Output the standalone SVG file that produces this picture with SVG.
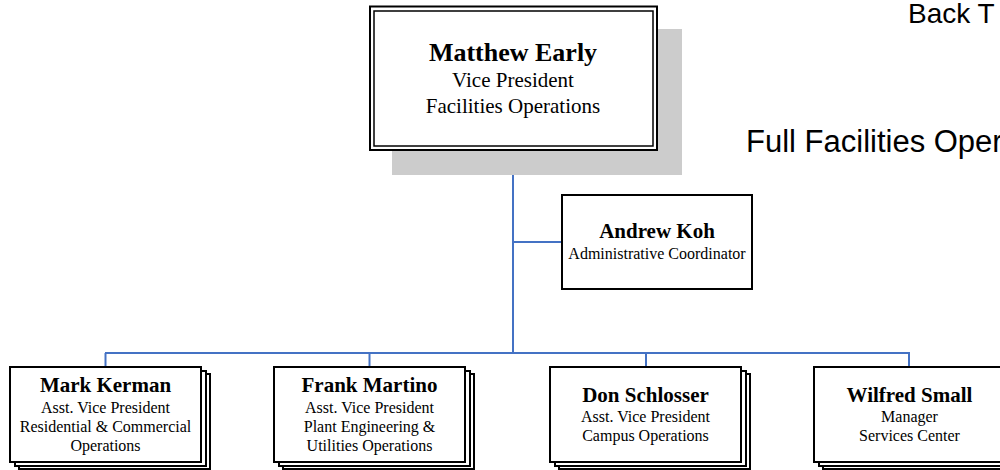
<svg xmlns="http://www.w3.org/2000/svg" width="1000" height="470" viewBox="0 0 1000 470">
<style>
  .nm { font-family: "Liberation Serif", "Times New Roman", serif; font-weight: bold; text-anchor: middle; fill: #000; }
  .tt { font-family: "Liberation Serif", "Times New Roman", serif; text-anchor: middle; fill: #000; }
  .box { fill: #fff; stroke: #000; stroke-width: 2; }
  .stack { fill: #fff; stroke: #000; stroke-width: 2; }
  .conn { fill: none; stroke: #4472C4; stroke-width: 2; }
  .link { font-family: "Liberation Sans", Arial, sans-serif; fill: #000; }
</style>
<rect width="1000" height="470" fill="#fff"/>

<text class="link" x="908" y="23" font-size="28">Back T</text>
<text class="link" x="746" y="152" font-size="31">Full Facilities Oper</text>

<g id="connectors">
  <line class="conn" x1="513" y1="151" x2="513" y2="353"/>
  <line class="conn" x1="513" y1="242" x2="562" y2="242"/>
  <line class="conn" x1="105" y1="353" x2="910" y2="353"/>
  <line class="conn" x1="105.5" y1="353" x2="105.5" y2="367"/>
  <line class="conn" x1="369.5" y1="353" x2="369.5" y2="367"/>
  <line class="conn" x1="646" y1="353" x2="646" y2="367"/>
  <line class="conn" x1="909" y1="353" x2="909" y2="367"/>
</g>

<g id="matthew-early">
  <rect x="392" y="29" width="290" height="146" fill="#cccccc"/>
  <rect x="370" y="6.5" width="287" height="143.5" fill="#fff" stroke="#000" stroke-width="2"/>
  <rect x="374" y="11" width="279" height="135" fill="none" stroke="#000" stroke-width="1.5"/>
  <text class="nm" x="513" y="61" font-size="26">Matthew Early</text>
  <text class="tt" x="513" y="87" font-size="21">Vice President</text>
  <text class="tt" x="513" y="113" font-size="21">Facilities Operations</text>
</g>

<g id="andrew-koh">
  <rect class="box" x="562" y="195" width="190" height="94"/>
  <text class="nm" x="657" y="238" font-size="21">Andrew Koh</text>
  <text class="tt" x="657" y="259" font-size="16">Administrative Coordinator</text>
</g>

<g id="mark-kerman">
  <rect class="stack" x="19" y="374" width="191" height="95"/>
  <rect class="stack" x="15" y="371" width="191" height="95"/>
  <rect class="box" x="10" y="367" width="191" height="95"/>
  <text class="nm" x="105.5" y="392" font-size="21">Mark Kerman</text>
  <text class="tt" x="105.5" y="413" font-size="16">Asst. Vice President</text>
  <text class="tt" x="105.5" y="432" font-size="16">Residential &amp; Commercial</text>
  <text class="tt" x="105.5" y="451" font-size="16">Operations</text>
</g>

<g id="frank-martino">
  <rect class="stack" x="283" y="374" width="191" height="95"/>
  <rect class="stack" x="279" y="371" width="191" height="95"/>
  <rect class="box" x="274" y="367" width="191" height="95"/>
  <text class="nm" x="369.5" y="392" font-size="21">Frank Martino</text>
  <text class="tt" x="369.5" y="413" font-size="16">Asst. Vice President</text>
  <text class="tt" x="369.5" y="432" font-size="16">Plant Engineering &amp;</text>
  <text class="tt" x="369.5" y="451" font-size="16">Utilities Operations</text>
</g>

<g id="don-schlosser">
  <rect class="stack" x="559" y="374" width="191" height="95"/>
  <rect class="stack" x="555" y="371" width="191" height="95"/>
  <rect class="box" x="550" y="367" width="191" height="95"/>
  <text class="nm" x="645.5" y="402" font-size="21">Don Schlosser</text>
  <text class="tt" x="645.5" y="422" font-size="16">Asst. Vice President</text>
  <text class="tt" x="645.5" y="441" font-size="16">Campus Operations</text>
</g>

<g id="wilfred-small">
  <rect class="stack" x="823" y="374" width="191" height="95"/>
  <rect class="stack" x="819" y="371" width="191" height="95"/>
  <rect class="box" x="814" y="367" width="191" height="95"/>
  <text class="nm" x="909.5" y="402" font-size="21">Wilfred Small</text>
  <text class="tt" x="909.5" y="422" font-size="16">Manager</text>
  <text class="tt" x="909.5" y="441" font-size="16">Services Center</text>
</g>
</svg>
